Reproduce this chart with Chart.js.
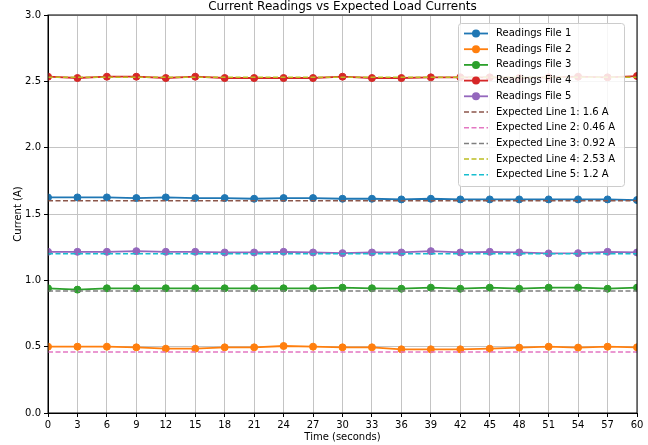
<!DOCTYPE html>
<html>
<head>
<meta charset="utf-8">
<script src="https://cdn.jsdelivr.net/npm/chart.js@4/dist/chart.umd.min.js"></script>
<style>
  html, body { margin: 0; padding: 0; background: #fff; }
  canvas { display: block; }
</style>
</head>
<body>
<canvas id="currentChart" width="648" height="445"></canvas>
<script>
// time axis (seconds)
const timeSec = [0, 3, 6, 9, 12, 15, 18, 21, 24, 27, 30, 33, 36, 39, 42, 45, 48, 51, 54, 57, 60];

// measured currents per file (A)
const readings1 = [1.625, 1.625, 1.625, 1.62, 1.625, 1.62, 1.62, 1.615, 1.62, 1.62, 1.615, 1.615, 1.61, 1.615, 1.61, 1.61, 1.61, 1.61, 1.61, 1.61, 1.605];
const readings2 = [0.50, 0.50, 0.50, 0.495, 0.485, 0.485, 0.495, 0.495, 0.505, 0.50, 0.495, 0.495, 0.48, 0.48, 0.48, 0.485, 0.493, 0.50, 0.493, 0.50, 0.495];
const readings3 = [0.94, 0.93, 0.94, 0.94, 0.94, 0.94, 0.94, 0.94, 0.94, 0.94, 0.945, 0.94, 0.937, 0.945, 0.937, 0.945, 0.937, 0.945, 0.945, 0.937, 0.945];
const readings4 = [2.535, 2.525, 2.535, 2.535, 2.525, 2.535, 2.525, 2.525, 2.525, 2.525, 2.535, 2.525, 2.525, 2.53, 2.53, 2.53, 2.525, 2.53, 2.535, 2.53, 2.54];
const readings5 = [1.215, 1.215, 1.215, 1.22, 1.215, 1.215, 1.21, 1.21, 1.215, 1.21, 1.205, 1.21, 1.21, 1.22, 1.21, 1.215, 1.21, 1.203, 1.205, 1.215, 1.21];

// expected load currents (A)
const expectedLoads = [1.6, 0.46, 0.92, 2.53, 1.2];

const readingColors = ['#1f77b4', '#ff7f0e', '#2ca02c', '#d62728', '#9467bd'];
const expectedColors = ['#8c564b', '#e377c2', '#7f7f7f', '#bcbd22', '#17becf'];

const FONT = "'DejaVu Sans', sans-serif";
const allReadings = [readings1, readings2, readings3, readings4, readings5];

const datasets = [];
allReadings.forEach(function (vals, i) {
    datasets.push({
        label: 'Readings File ' + (i + 1),
        data: vals.map(function (v, k) { return { x: timeSec[k], y: v }; }),
        borderColor: readingColors[i],
        backgroundColor: readingColors[i],
        borderWidth: 1.8,
        pointRadius: 3.5,
        pointBorderWidth: 1,
        pointBorderColor: readingColors[i],
        pointBackgroundColor: readingColors[i],
        tension: 0,
        order: 10 - i,
        isReading: true
    });
});
expectedLoads.forEach(function (v, i) {
    datasets.push({
        label: 'Expected Line ' + (i + 1) + ': ' + v + ' A',
        data: [{ x: timeSec[0], y: v }, { x: timeSec[timeSec.length - 1], y: v }],
        borderColor: expectedColors[i],
        borderWidth: 1.5,
        borderDash: [5, 2.5],
        pointRadius: 0,
        tension: 0,
        order: 5 - i,
        isReading: false
    });
});

// title, box spines and the in-plot legend
const decorPlugin = {
    id: 'decor',
    afterDatasetsDraw: function (chart) {
        const { ctx, chartArea } = chart;
        ctx.save();
        ctx.strokeStyle = '#000';
        ctx.lineWidth = 1;
        ctx.strokeRect(chartArea.left, chartArea.top, chartArea.right - chartArea.left, chartArea.bottom - chartArea.top);
        ctx.restore();
    },
    afterDraw: function (chart) {
        const { ctx, chartArea } = chart;
        ctx.save();

        // title
        ctx.font = '12px ' + FONT;
        ctx.fillStyle = '#000';
        ctx.textAlign = 'center';
        ctx.textBaseline = 'alphabetic';
        ctx.fillText('Current Readings vs Expected Load Currents', (chartArea.left + chartArea.right) / 2, 9.5);

        // legend box
        const bx = 458.5, by = 23.5, bw = 166, bh = 163, r = 3;
        ctx.beginPath();
        ctx.moveTo(bx + r, by);
        ctx.arcTo(bx + bw, by, bx + bw, by + bh, r);
        ctx.arcTo(bx + bw, by + bh, bx, by + bh, r);
        ctx.arcTo(bx, by + bh, bx, by, r);
        ctx.arcTo(bx, by, bx + bw, by, r);
        ctx.closePath();
        ctx.fillStyle = 'rgba(255,255,255,0.85)';
        ctx.fill();
        ctx.strokeStyle = '#cccccc';
        ctx.lineWidth = 1;
        ctx.stroke();

        ctx.font = '10px ' + FONT;
        ctx.textAlign = 'left';
        ctx.textBaseline = 'middle';
        chart.data.datasets.forEach(function (ds, i) {
            const y = 33.5 + i * 15.7;
            ctx.strokeStyle = ds.borderColor;
            ctx.lineWidth = ds.isReading ? 1.8 : 1.5;
            ctx.setLineDash(ds.borderDash || []);
            ctx.beginPath();
            ctx.moveTo(464, y);
            ctx.lineTo(488, y);
            ctx.stroke();
            ctx.setLineDash([]);
            if (ds.isReading) {
                ctx.fillStyle = ds.borderColor;
                ctx.beginPath();
                ctx.arc(476, y, 4, 0, Math.PI * 2);
                ctx.fill();
            }
            ctx.fillStyle = '#000';
            ctx.fillText(ds.label, 496, y);
        });
        ctx.restore();
    }
};

const chart = new Chart(document.getElementById('currentChart'), {
    type: 'line',
    data: { datasets: datasets },
    options: {
        responsive: false,
        animation: false,
        layout: { padding: { top: 15, right: 11, left: 0, bottom: 0 } },
        plugins: {
            legend: { display: false },
            title: { display: false },
            tooltip: { enabled: false }
        },
        scales: {
            x: {
                type: 'linear',
                min: 0,
                max: 60,
                afterFit: function (scale) { scale.height = 32; },
                ticks: {
                    stepSize: 3,
                    color: '#000',
                    padding: 2,
                    maxRotation: 0,
                    autoSkip: false,
                    font: { family: FONT, size: 10 }
                },
                grid: { color: '#c4c4c4', lineWidth: 1, tickLength: 4, tickColor: '#000' },
                border: { color: '#000', width: 1 },
                title: {
                    display: true,
                    text: 'Time (seconds)',
                    color: '#000',
                    font: { family: FONT, size: 10 },
                    padding: { top: 0, bottom: 2 }
                }
            },
            y: {
                min: 0,
                max: 3,
                afterFit: function (scale) { scale.width = 48; },
                ticks: {
                    stepSize: 0.5,
                    color: '#000',
                    padding: 3,
                    font: { family: FONT, size: 10 },
                    callback: function (v) { return v.toFixed(1); }
                },
                grid: { color: '#c4c4c4', lineWidth: 1, tickLength: 4, tickColor: '#000' },
                border: { color: '#000', width: 1 },
                title: {
                    display: true,
                    text: 'Current (A)',
                    color: '#000',
                    font: { family: FONT, size: 10 },
                    padding: { top: 12.5, bottom: 0 }
                }
            }
        }
    },
    plugins: [decorPlugin]
});
</script>
</body>
</html>
